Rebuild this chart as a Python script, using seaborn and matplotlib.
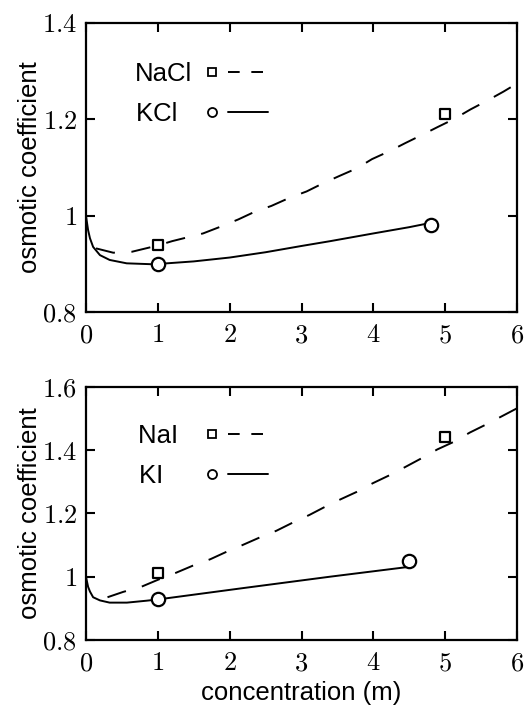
import matplotlib

matplotlib.use("Agg")
import matplotlib.pyplot as plt
import pandas as pd
import seaborn as sns
from matplotlib.legend_handler import HandlerTuple
from matplotlib.lines import Line2D
from matplotlib.ticker import FuncFormatter

# Top panel: chlorides, theory curves
nacl_curve_x = [0.14, 0.38, 0.64, 1.0, 1.2, 1.63, 1.89, 2.12, 2.35, 2.58, 2.82,
                3.07, 3.3, 3.54, 3.77, 3.98, 4.23, 4.44, 4.7, 4.9, 5.12, 5.35,
                5.58, 5.81, 6.0]
nacl_curve_y = [0.932, 0.923, 0.925, 0.938, 0.947, 0.963, 0.978, 0.992, 1.008,
                1.02, 1.036, 1.05, 1.067, 1.083, 1.098, 1.117, 1.134, 1.15,
                1.169, 1.184, 1.2, 1.22, 1.238, 1.257, 1.274]
kcl_curve_x = [0.0, 0.03, 0.056, 0.1, 0.195, 0.33, 0.567, 0.94, 1.5, 2.0, 2.5,
               3.0, 3.4, 4.0, 4.5, 4.8]
kcl_curve_y = [1.0, 0.97, 0.953, 0.935, 0.918, 0.908, 0.901, 0.899, 0.905,
               0.913, 0.924, 0.937, 0.947, 0.963, 0.976, 0.985]

# Top panel: measured points
nacl_pts_x = [1.0, 5.0]
nacl_pts_y = [0.94, 1.21]
kcl_pts_x = [1.0, 4.8]
kcl_pts_y = [0.90, 0.98]

# Bottom panel: iodides, theory curves
nai_curve_x = [0.3, 0.52, 0.77, 1.0, 1.25, 1.49, 1.73, 1.96, 2.18, 2.42, 2.65,
               2.88, 3.11, 3.33, 3.54, 3.77, 3.99, 4.23, 4.44, 4.67, 4.89,
               5.12, 5.34, 5.58, 5.79, 6.0]
nai_curve_y = [0.935, 0.952, 0.968, 0.99, 1.012, 1.035, 1.055, 1.079, 1.1,
               1.124, 1.145, 1.171, 1.195, 1.221, 1.244, 1.268, 1.295, 1.321,
               1.346, 1.374, 1.402, 1.426, 1.455, 1.482, 1.507, 1.532]
ki_curve_x = [0.0, 0.03, 0.056, 0.1, 0.195, 0.33, 0.57, 0.84, 1.0, 2.19, 3.4,
              4.46]
ki_curve_y = [1.0, 0.968, 0.953, 0.935, 0.925, 0.918, 0.918, 0.924, 0.928,
              0.964, 1.0, 1.03]

# Bottom panel: measured points
nai_pts_x = [1.0, 5.0]
nai_pts_y = [1.01, 1.44]
ki_pts_x = [1.0, 4.5]
ki_pts_y = [0.93, 1.05]

x_ticks = [0, 1, 2, 3, 4, 5, 6]
top_y_ticks = [0.8, 1.0, 1.2, 1.4]
bottom_y_ticks = [0.8, 1.0, 1.2, 1.4, 1.6]

sns.set_theme(style="ticks")
plt.rcParams["font.family"] = ["Liberation Sans", "DejaVu Sans"]
plt.rcParams["mathtext.fontset"] = "cm"
plt.rcParams["text.color"] = "black"
plt.rcParams["axes.labelcolor"] = "black"

LW = 1.4
DASH = (0, (10, 8.5))
label_size = 18.5


def draw_panel(ax, dashed, solid, pts_sq, pts_ci, names, yticks):
    sns.lineplot(x=dashed[0], y=dashed[1], ax=ax, color="black", lw=LW,
                 linestyle=DASH, sort=False, errorbar=None)
    sns.lineplot(x=solid[0], y=solid[1], ax=ax, color="black", lw=LW,
                 sort=False, errorbar=None)
    sns.scatterplot(x=pts_sq[0], y=pts_sq[1], ax=ax, marker="s", s=62,
                    facecolor="white", edgecolor="black", linewidth=1.6,
                    zorder=5)
    sns.scatterplot(x=pts_ci[0], y=pts_ci[1], ax=ax, marker="o", s=92,
                    facecolor="white", edgecolor="black", linewidth=1.6,
                    zorder=5)

    ax.set_xlim(x_ticks[0], x_ticks[-1])
    ax.set_ylim(yticks[0], yticks[-1])
    ax.set_xticks(x_ticks)
    ax.set_yticks(yticks)
    fmt = FuncFormatter(lambda v, pos: f"${v:g}$")
    ax.xaxis.set_major_formatter(fmt)
    ax.yaxis.set_major_formatter(fmt)
    ax.tick_params(direction="in", length=6.5, width=1.5, labelsize=19,
                   top=True, right=True, color="black", labelcolor="black")
    ax.tick_params(axis="x", pad=8)
    ax.tick_params(axis="y", pad=6.5)
    for sp in ax.spines.values():
        sp.set_visible(True)
        sp.set_linewidth(1.6)
        sp.set_color("black")

    ax.set_ylabel("osmotic coefficient", fontsize=label_size, color="black")
    ax.yaxis.set_label_coords(-0.103, 0.5)

    # legend: label, then point symbol, then line sample
    sq = Line2D([], [], marker="s", ls="none", ms=5.8, mfc="white",
                mec="black", mew=1.3)
    ci = Line2D([], [], marker="o", ls="none", ms=6.5, mfc="white",
                mec="black", mew=1.3)
    dl = Line2D([], [], color="black", lw=LW, linestyle=(0, (6, 6)))
    sl = Line2D([], [], color="black", lw=LW)
    return ax.legend(
        [(sq, dl), (ci, sl)], names,
        handler_map={tuple: HandlerTuple(ndivide=2, pad=-0.17)},
        markerfirst=False, frameon=False, fontsize=label_size,
        handlelength=2.95, handletextpad=0.0, labelspacing=0.62,
        borderpad=0, borderaxespad=0, loc="upper right",
    )


fig = plt.figure(figsize=(5.24, 7.06), dpi=100)
ax_top = fig.add_axes([0.164, 0.558, 0.823, 0.410])
ax_bot = fig.add_axes([0.164, 0.0935, 0.823, 0.3588])

leg = draw_panel(ax_top, (nacl_curve_x, nacl_curve_y),
                 (kcl_curve_x, kcl_curve_y), (nacl_pts_x, nacl_pts_y),
                 (kcl_pts_x, kcl_pts_y), ["NaCl", "KCl\u00a0\u00a0"],
                 top_y_ticks)
leg.set_bbox_to_anchor((0.4216, 0.864), transform=ax_top.transAxes)

leg = draw_panel(ax_bot, (nai_curve_x, nai_curve_y),
                 (ki_curve_x, ki_curve_y), (nai_pts_x, nai_pts_y),
                 (ki_pts_x, ki_pts_y), ["NaI\u00a0\u00a0", "KI\u00a0\u00a0\u00a0\u00a0"],
                 bottom_y_ticks)
leg.set_bbox_to_anchor((0.4216, 0.853), transform=ax_bot.transAxes)

ax_top.set_xlabel("")
ax_bot.set_xlabel("concentration (m)", fontsize=label_size, color="black",
                  va="top")
ax_bot.xaxis.set_label_coords(0.5, -0.163)

fig.savefig("out.png", dpi=100, facecolor="white")
